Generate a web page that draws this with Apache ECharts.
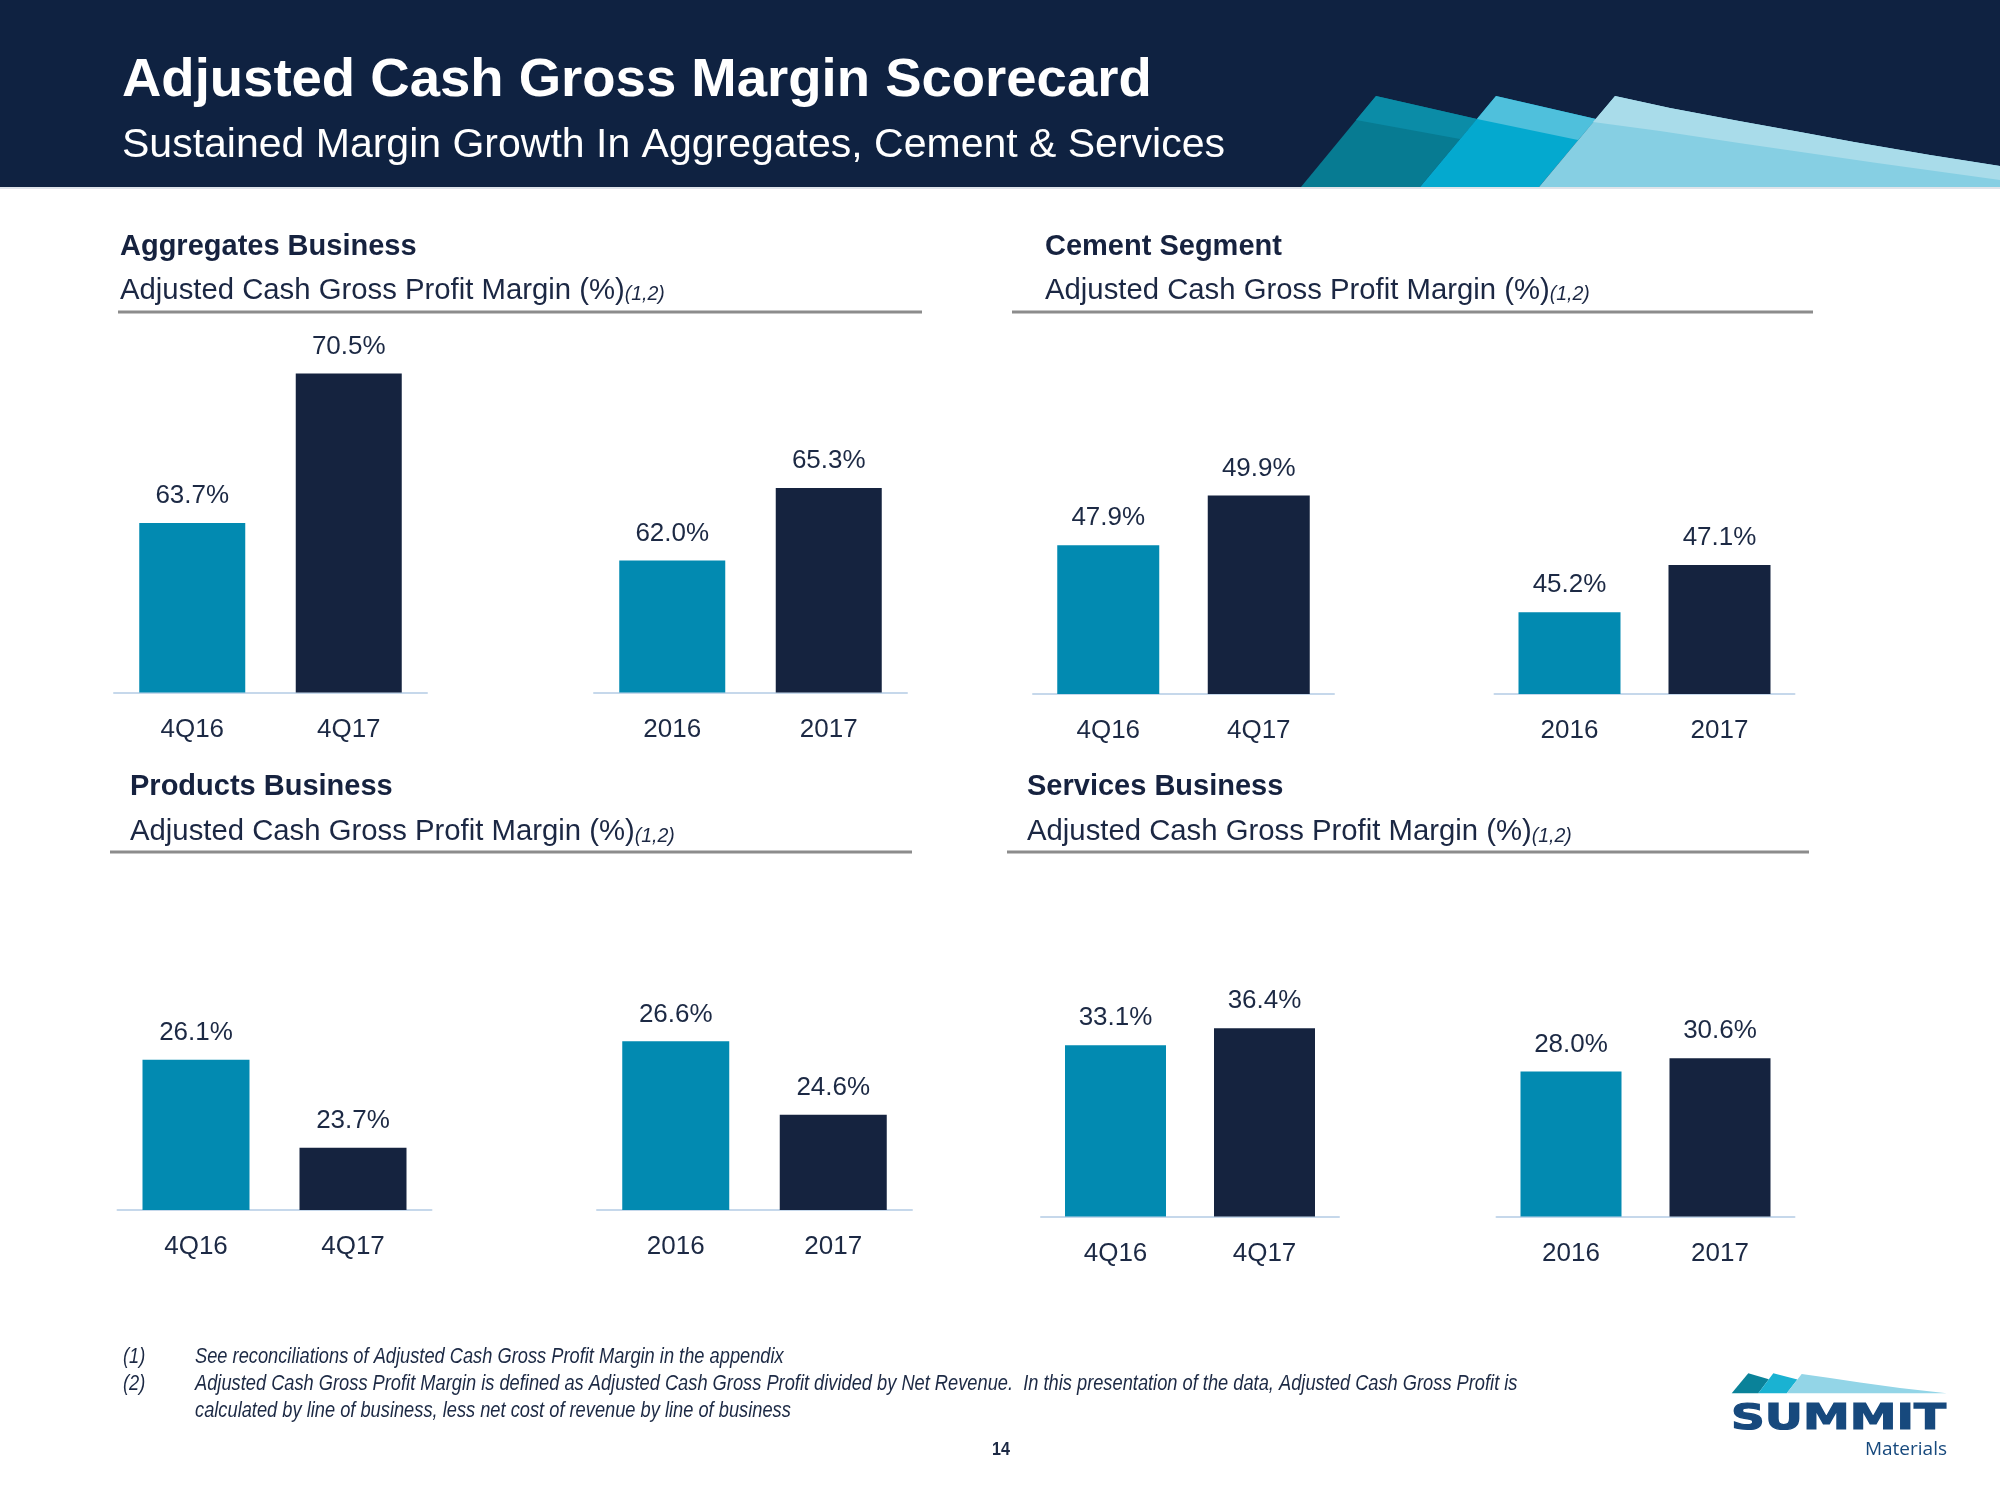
<!DOCTYPE html>
<html>
<head>
<meta charset="utf-8">
<script src="https://cdn.jsdelivr.net/npm/echarts@6/dist/echarts.min.js"></script>
<style>
html,body{margin:0;padding:0;background:#ffffff;}
#chart{width:2000px;height:1500px;}
</style>
</head>
<body>
<div id="chart"></div>
<script>
// ---------------- DATA ----------------
const quarterCategories = ['4Q16', '4Q17'];
const yearCategories = ['2016', '2017'];
const aggregatesQuarter = [63.7, 70.5];
const aggregatesYear = [62.0, 65.3];
const cementQuarter = [47.9, 49.9];
const cementYear = [45.2, 47.1];
const productsQuarter = [26.1, 23.7];
const productsYear = [26.6, 24.6];
const servicesQuarter = [33.1, 36.4];
const servicesYear = [28.0, 30.6];
const panelTitles = ['Aggregates Business', 'Cement Segment', 'Products Business', 'Services Business'];
const panelSubtitle = 'Adjusted Cash Gross Profit Margin (%)';
const footnoteRef = '(1,2)';
const pageTitle = 'Adjusted Cash Gross Margin Scorecard';
const pageSubtitle = 'Sustained Margin Growth In Aggregates, Cement & Services';
const footnoteMarks = ['(1)', '(2)'];
const footnoteLines = [
  'See reconciliations of Adjusted Cash Gross Profit Margin in the appendix',
  'Adjusted Cash Gross Profit Margin is defined as Adjusted Cash Gross Profit divided by Net Revenue.  In this presentation of the data, Adjusted Cash Gross Profit is',
  'calculated by line of business, less net cost of revenue by line of business'
];
const pageNumber = '14';

// ---------------- STYLE / LAYOUT ----------------
const SANS = "'Liberation Sans', Arial, sans-serif";
const NAVY_TEXT = '#16223f';
const LABEL_TEXT = '#1c2944';
const barColors = ['#028ab1', '#15233f'];

const groups = [
  {cats: quarterCategories, data: aggregatesQuarter, left: 114,   width: 313, top: 340.5, height: 352, min: 56,   max: 72,   barWidth: 106},
  {cats: yearCategories,    data: aggregatesYear,    left: 594,   width: 313, top: 340.5, height: 352, min: 56,   max: 72,   barWidth: 106},
  {cats: quarterCategories, data: cementQuarter,     left: 1033,  width: 301, top: 446,   height: 248, min: 41.9, max: 51.9, barWidth: 102},
  {cats: yearCategories,    data: cementYear,        left: 1494.5,width: 300, top: 446,   height: 248, min: 41.9, max: 51.9, barWidth: 102},
  {cats: quarterCategories, data: productsQuarter,   left: 117.5, width: 314, top: 990,   height: 220, min: 22,   max: 28,   barWidth: 107},
  {cats: yearCategories,    data: productsYear,      left: 597,   width: 315, top: 990,   height: 220, min: 22,   max: 28,   barWidth: 107},
  {cats: quarterCategories, data: servicesQuarter,   left: 1041,  width: 298, top: 1009.5,height: 207, min: 0,    max: 40,   barWidth: 101},
  {cats: yearCategories,    data: servicesYear,      left: 1496.5,width: 298, top: 1009.5,height: 207, min: 0,    max: 40,   barWidth: 101}
];

const panels = [
  {x: 120,  titleY: 247, subY: 290.5, lineX1: 118,  lineX2: 922,  lineY: 312},
  {x: 1045, titleY: 247, subY: 290.5, lineX1: 1012, lineX2: 1813, lineY: 312},
  {x: 130,  titleY: 787, subY: 832,   lineX1: 110,  lineX2: 912,  lineY: 852},
  {x: 1027, titleY: 787, subY: 832,   lineX1: 1007, lineX2: 1809, lineY: 852}
];

// ---------------- BUILD OPTION ----------------
const grid = [], xAxis = [], yAxis = [], series = [];
groups.forEach((g, i) => {
  grid.push({left: g.left, top: g.top, width: g.width, height: g.height, containLabel: false});
  xAxis.push({
    type: 'category', gridIndex: i, data: g.cats,
    axisLine: {show: true, lineStyle: {color: '#c6d8eb', width: 2}},
    axisTick: {show: false},
    axisLabel: {margin: 24, fontSize: 26, fontFamily: SANS, color: LABEL_TEXT},
    splitLine: {show: false}
  });
  yAxis.push({type: 'value', gridIndex: i, min: g.min, max: g.max, show: false, splitLine: {show: false}});
  series.push({
    type: 'bar', xAxisIndex: i, yAxisIndex: i, barWidth: g.barWidth, silent: true,
    data: g.data.map((v, j) => ({value: v, itemStyle: {color: barColors[j]}})),
    label: {
      show: true, position: 'top', distance: 14,
      formatter: p => Number(p.value).toFixed(1) + '%',
      fontSize: 26, fontFamily: SANS, color: LABEL_TEXT
    }
  });
});

const graphics = [];
function poly(points, fill) {
  graphics.push({type: 'polygon', silent: true, shape: {points: points}, style: {fill: fill}});
}
// header band
graphics.push({type: 'rect', silent: true, shape: {x: 0, y: 0, width: 2000, height: 187}, style: {fill: '#0f2241'}});
graphics.push({type: 'rect', silent: true, shape: {x: 0, y: 187, width: 2000, height: 2}, style: {fill: '#dfe4ea'}});
// header sails (decoration)
poly([[1301,187],[1376,96],[1477,119],[1420,187]], '#077b92');
poly([[1356,120],[1376,96],[1477,119],[1460,139]], '#0b8ca7');
poly([[1420,187],[1496,96],[1596,119],[1539,187]], '#04a9cf');
poly([[1477,119],[1496,96],[1596,119],[1578,140]], '#4fc0dc');
poly([[1539,187],[1615,96],[1670,108],[1739,121],[1800,132],[1854,142],[1930,155],[2000,166],[2000,187]], '#86cfe3');
poly([[1593,122],[1615,96],[1670,108],[1739,121],[1800,132],[1854,142],[1930,155],[2000,166],[2000,180],[1877,163],[1739,143],[1660,131]], '#a9dcea');

// header texts
graphics.push({type: 'text', silent: true, x: 122, y: 81, style: {text: pageTitle, font: 'bold 54.5px ' + SANS, fill: '#ffffff', verticalAlign: 'middle'}});
graphics.push({type: 'text', silent: true, x: 122, y: 146, style: {text: pageSubtitle, font: '41px ' + SANS, fill: '#ffffff', verticalAlign: 'middle'}});

// panel titles
panels.forEach((p, i) => {
  graphics.push({type: 'text', silent: true, x: p.x, y: p.titleY, style: {text: panelTitles[i], font: 'bold 29px ' + SANS, fill: NAVY_TEXT, verticalAlign: 'middle'}});
  graphics.push({type: 'text', silent: true, x: p.x, y: p.subY, style: {
    text: '{a|' + panelSubtitle + '}{b|' + footnoteRef + '}',
    verticalAlign: 'middle',
    rich: {
      a: {fontSize: 29.3, fontFamily: SANS, fill: '#1b2743', verticalAlign: 'bottom', lineHeight: 29},
      b: {fontSize: 19.5, fontStyle: 'italic', fontFamily: SANS, fill: '#1b2743', verticalAlign: 'bottom', lineHeight: 19}
    }
  }});
  graphics.push({type: 'line', silent: true, shape: {x1: p.lineX1, y1: p.lineY, x2: p.lineX2, y2: p.lineY}, style: {stroke: '#8c8c8c', lineWidth: 3}});
});

// footnotes (narrow italic look via horizontal scaling)
const fnY = [1357, 1384, 1411];
footnoteMarks.forEach((m, i) => {
  graphics.push({type: 'text', silent: true, x: 123, y: fnY[i], scaleX: 0.83, style: {text: m, font: 'italic 22px ' + SANS, fill: '#1c2944', verticalAlign: 'middle'}});
});
footnoteLines.forEach((t, i) => {
  graphics.push({type: 'text', silent: true, x: 195, y: fnY[i], scaleX: 0.83, style: {text: t, font: 'italic 22px ' + SANS, fill: '#1c2944', verticalAlign: 'middle'}});
});
graphics.push({type: 'text', silent: true, x: 1001, y: 1450, scaleX: 0.85, style: {text: pageNumber, font: 'bold 19px ' + SANS, fill: '#1c2944', align: 'center', verticalAlign: 'middle'}});

// logo
poly([[1731.7,1393.3],[1748.3,1373.3],[1768.8,1379.3],[1758.3,1393.3]], '#0a8299');
poly([[1758.3,1393.3],[1773.3,1373.3],[1797.4,1379.5],[1786.7,1393.3]], '#1ab2d2');
poly([[1786.7,1393.3],[1801.7,1374],[1830,1378],[1860,1382.5],[1900,1388],[1946.7,1393.3]], '#93d5e7');
graphics.push({type: 'text', silent: true, x: 1731, y: 1420, scaleX: 1.305, style: {text: 'SUMMIT', font: 'bold 36px "DejaVu Sans"', fill: '#17497d', stroke: '#17497d', lineWidth: 1.2, verticalAlign: 'middle'}});
graphics.push({type: 'text', silent: true, x: 1947, y: 1450, style: {text: 'Materials', font: '19px "Open Sans"', fill: '#17497d', align: 'right', verticalAlign: 'middle'}});

const option = {
  animation: false,
  backgroundColor: '#ffffff',
  grid: grid,
  xAxis: xAxis,
  yAxis: yAxis,
  series: series,
  graphic: graphics
};

const chart = echarts.init(document.getElementById('chart'), null, {renderer: 'canvas', width: 2000, height: 1500});
chart.setOption(option);
</script>
</body>
</html>
